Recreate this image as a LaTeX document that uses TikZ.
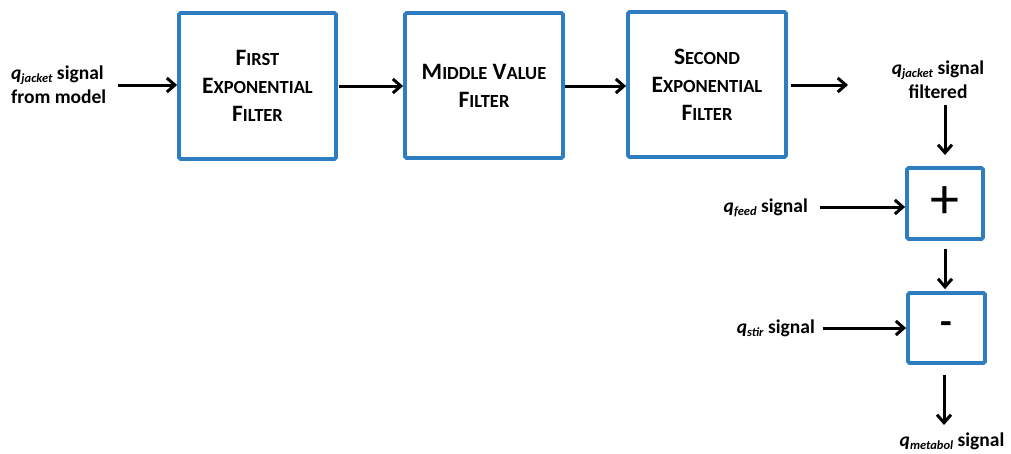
\documentclass[tikz,border=0pt]{standalone}
\usepackage{fontspec}
\setmainfont{Carlito}
\usetikzlibrary{arrows.meta}
\definecolor{boxblue}{RGB}{46,125,193}
\newcommand{\scw}[2]{{\fontsize{23.5}{28}\selectfont #1}{\fontsize{18.5}{28}\selectfont #2}}
\newcommand{\qsub}[1]{\textit{q}{\fontsize{12.5}{12}\selectfont\raisebox{-3pt}{\textit{#1}}}}
\tikzset{
  blk/.style={draw=boxblue, line width=3.8pt, rounded corners=1.5pt, fill=white, align=center, font=\bfseries\fontsize{23.5}{28}\selectfont},
  opbox/.style={draw=boxblue, line width=3.8pt, rounded corners=1.5pt, fill=white},
  lbl/.style={font=\bfseries\fontsize{19.5}{24}\selectfont, inner sep=0pt},
  arr/.style={line width=3pt, -{Straight Barb[length=8pt,width=14pt,line width=3pt]}}
}
\begin{document}
\begin{tikzpicture}[x=1pt,y=-1pt]
\useasboundingbox (0,0) rectangle (1011,453);
\node[blk, minimum width=157pt, minimum height=146pt] (f1) at (257.5,86) {\scw{F}{IRST}\\\scw{E}{XPONENTIAL}\\\scw{F}{ILTER}};
\node[blk, minimum width=158pt, minimum height=145pt] (f2) at (484,85.5) {\scw{M}{IDDLE} \scw{V}{ALUE}\\\scw{F}{ILTER}};
\node[blk, minimum width=158pt, minimum height=145pt] (f3) at (707,84.5) {\scw{S}{ECOND}\\\scw{E}{XPONENTIAL}\\\scw{F}{ILTER}};
\node[opbox, minimum width=76pt, minimum height=71pt, inner sep=0pt] (plus) at (945,203.5) {\fontsize{58}{58}\selectfont\raisebox{2pt}{+}};
\node[opbox, minimum width=77pt, minimum height=70pt, inner sep=0pt] (minus) at (946.5,328) {\bfseries\fontsize{38}{38}\selectfont -};
\node[lbl, anchor=west, align=left] (in) at (11,85) {\qsub{jacket} signal\\from model};
\node[lbl, align=center] (filt) at (938,80) {\qsub{jacket} signal\\filtered};
\node[lbl, anchor=east] (feed) at (808,208) {\qsub{feed} signal};
\node[lbl, anchor=east] (stir) at (815,328) {\qsub{stir} signal};
\node[lbl] (met) at (952,441) {\qsub{metabol} signal};
\coordinate (out) at (848,85);
\coordinate (inend) at (118,85);
\coordinate (a12) at (339,86);
\coordinate (a23) at (565,86);
\coordinate (feedend) at (820,207);
\coordinate (stirend) at (823,328);
\draw[arr] (inend) -- (f1.west |- inend);
\draw[arr] (a12) -- (f2.west |- a12);
\draw[arr] (a23) -- (f3.west |- a23);
\draw[arr, shorten <=3pt] (f3.east |- out) -- (out);
\draw[arr] (945,105) -- (945,155);
\draw[arr] (feedend) -- (plus.west |- feedend);
\draw[arr, shorten <=8pt, shorten >=2pt] (plus.south) -- (plus.south |- minus.north);
\draw[arr] (stirend) -- (minus.west |- stirend);
\draw[arr] (944,375) -- (944,425);
\end{tikzpicture}
\end{document}
